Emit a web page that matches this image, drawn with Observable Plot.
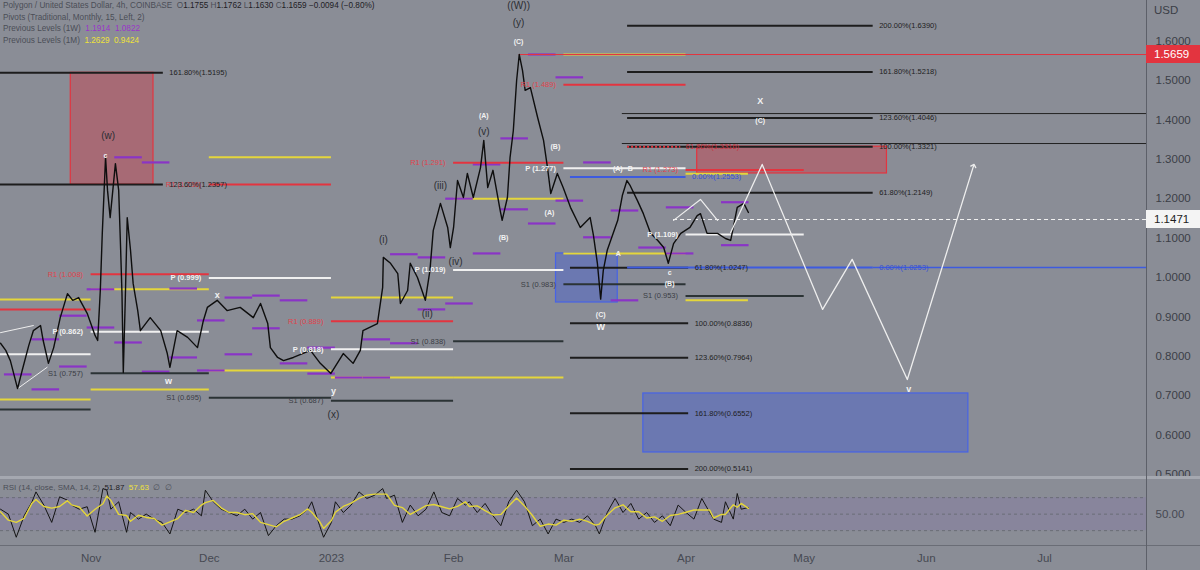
<!DOCTYPE html>
<html>
<head>
<meta charset="utf-8">
<script src="https://cdn.jsdelivr.net/npm/d3@7"></script>
<script src="https://cdn.jsdelivr.net/npm/@observablehq/plot@0.6"></script>
<style>
  html, body { margin:0; padding:0; background:#8a8d96; }
  #wrap { position:relative; width:1200px; height:570px; overflow:hidden; background:#8a8d96; font-family:"Liberation Sans", Arial, sans-serif; }
  #main, #rsi { position:absolute; left:0; }
  #main { top:0; }
  #rsi { top:478px; }
  .lg { position:absolute; left:3px; font-size:8.2px; color:#4b4e57; white-space:nowrap; line-height:11px; }
  .lg b { font-weight:normal; color:#1e2025; }
  .sep { position:absolute; }
  .tag { position:absolute; left:1146px; width:54px; height:18px; line-height:18px; font-size:11.5px; padding-left:8px; box-sizing:border-box; }
</style>
</head>
<body>
<div id="wrap">
  <div id="main"></div>
  <div id="rsi"></div>
</div>
<script>
// ---------------- data ----------------
const xStart = "2022-10-09 00";
const xEnd = "2023-07-26 21";
const priceDomain = [0.4898, 1.703];
const priceTicks = [0.5, 0.6, 0.7, 0.8, 0.9, 1.0, 1.1, 1.2, 1.3, 1.4, 1.5, 1.6];

const priceDates = [
"2022-10-09 00","2022-10-10 08","2022-10-11 12","2022-10-13 08","2022-10-14 12","2022-10-16 04","2022-10-17 08","2022-10-19 04","2022-10-19 20","2022-10-21 04",
"2022-10-22 12","2022-10-24 04","2022-10-26 00","2022-10-27 08","2022-10-28 20","2022-10-31 00","2022-11-02 00","2022-11-02 16","2022-11-03 08","2022-11-03 20",
"2022-11-04 16","2022-11-05 04","2022-11-05 20","2022-11-07 04","2022-11-08 00","2022-11-08 12","2022-11-08 20","2022-11-09 04","2022-11-09 16","2022-11-10 04",
"2022-11-11 00","2022-11-11 16","2022-11-12 20","2022-11-13 12","2022-11-16 00","2022-11-18 16","2022-11-20 08","2022-11-21 00","2022-11-22 20","2022-11-25 12",
"2022-11-28 00","2022-11-29 12","2022-11-30 12","2022-12-03 00","2022-12-05 12","2022-12-08 20","2022-12-12 04","2022-12-14 00","2022-12-15 20","2022-12-16 12",
"2022-12-18 08","2022-12-19 20","2022-12-22 08","2022-12-26 16","2022-12-29 04","2022-12-31 20","2023-01-04 00","2023-01-06 12","2023-01-08 08","2023-01-09 00",
"2023-01-12 16","2023-01-14 00","2023-01-14 04","2023-01-16 00","2023-01-17 20","2023-01-18 12","2023-01-20 08","2023-01-21 00","2023-01-22 20","2023-01-24 20",
"2023-01-26 00","2023-01-26 20","2023-01-28 16","2023-01-30 12","2023-01-31 04","2023-02-01 00","2023-02-02 00","2023-02-03 12","2023-02-04 12","2023-02-06 00",
"2023-02-07 20","2023-02-08 16","2023-02-09 16","2023-02-11 00","2023-02-12 20","2023-02-13 08","2023-02-14 16","2023-02-15 08","2023-02-16 04","2023-02-17 00",
"2023-02-17 16","2023-02-18 12","2023-02-19 04","2023-02-20 12","2023-02-22 08","2023-02-23 20","2023-02-24 20","2023-02-25 16","2023-02-27 08","2023-02-28 20",
"2023-03-02 16","2023-03-05 04","2023-03-07 16","2023-03-08 12","2023-03-09 12","2023-03-10 08","2023-03-11 00","2023-03-12 00","2023-03-13 08","2023-03-14 16",
"2023-03-15 20","2023-03-17 00","2023-03-17 20","2023-03-19 16","2023-03-21 04","2023-03-23 00","2023-03-24 20","2023-03-26 08","2023-03-27 12","2023-03-28 20",
"2023-03-30 16","2023-04-02 00","2023-04-03 20","2023-04-04 16","2023-04-06 08","2023-04-09 00","2023-04-11 00","2023-04-12 08","2023-04-13 00","2023-04-14 00",
"2023-04-15 16","2023-04-16 20"];
const priceValues = [
0.833,0.815,0.789,0.718,0.764,0.827,0.865,0.878,0.840,0.782,
0.822,0.898,0.959,0.942,0.949,0.909,0.853,0.840,0.967,1.112,
1.305,1.221,1.152,1.289,1.221,1.069,0.959,0.759,0.942,1.152,
1.069,0.985,0.916,0.865,0.898,0.865,0.807,0.772,0.865,0.848,
0.822,0.891,0.924,0.942,0.916,0.924,0.898,0.934,0.883,0.822,
0.797,0.789,0.797,0.815,0.782,0.756,0.807,0.782,0.815,0.865,
0.883,0.975,1.051,1.036,1.010,0.934,0.967,1.036,1.000,0.942,
1.018,1.119,1.188,1.127,1.076,1.127,1.246,1.203,1.264,1.203,
1.279,1.348,1.228,1.272,1.170,1.145,1.203,1.305,1.373,1.500,
1.566,1.525,1.475,1.482,1.406,1.348,1.279,1.213,1.264,1.228,
1.178,1.127,1.152,1.107,1.036,0.945,1.018,1.069,1.107,1.145,
1.208,1.246,1.233,1.195,1.162,1.112,1.094,1.076,1.036,1.086,
1.112,1.127,1.157,1.162,1.112,1.112,1.099,1.094,1.127,1.178,
1.188,1.165];

const rsiDates = [
"2022-10-09","2022-10-11","2022-10-13","2022-10-15","2022-10-17","2022-10-18","2022-10-20","2022-10-22","2022-10-24","2022-10-26",
"2022-10-27","2022-10-29","2022-10-31","2022-11-02","2022-11-04","2022-11-05","2022-11-06","2022-11-08","2022-11-10","2022-11-11",
"2022-11-13","2022-11-15","2022-11-17","2022-11-19","2022-11-21","2022-11-23","2022-11-25","2022-11-27","2022-11-29","2022-11-30",
"2022-12-02","2022-12-04","2022-12-06","2022-12-08","2022-12-10","2022-12-12","2022-12-14","2022-12-16","2022-12-18","2022-12-20",
"2022-12-22","2022-12-24","2022-12-26","2022-12-27","2022-12-29","2022-12-30","2023-01-01","2023-01-02","2023-01-04","2023-01-06",
"2023-01-08","2023-01-10","2023-01-12","2023-01-14","2023-01-15","2023-01-17","2023-01-19","2023-01-21","2023-01-23","2023-01-25",
"2023-01-27","2023-01-29","2023-01-31","2023-02-02","2023-02-04","2023-02-05","2023-02-07","2023-02-09","2023-02-11","2023-02-13",
"2023-02-15","2023-02-17","2023-02-19","2023-02-21","2023-02-23","2023-02-25","2023-02-27","2023-03-01","2023-03-03","2023-03-05",
"2023-03-07","2023-03-09","2023-03-10","2023-03-12","2023-03-14","2023-03-16","2023-03-18","2023-03-20","2023-03-22","2023-03-24",
"2023-03-26","2023-03-28","2023-03-30","2023-04-01","2023-04-03","2023-04-05","2023-04-07","2023-04-08","2023-04-10","2023-04-11",
"2023-04-13","2023-04-14","2023-04-15","2023-04-16 20"];
const rsiValues = [
56,50,22,48,65,77,61,40,71,67,
61,56,59,28,81,79,56,65,28,52,
44,50,44,40,26,56,52,56,48,79,
65,56,52,48,56,44,52,24,36,44,
44,48,56,65,36,22,40,65,52,61,
77,69,73,81,69,73,40,61,48,56,
77,52,48,69,61,65,52,63,48,36,
65,79,65,36,44,26,44,40,44,40,
48,36,26,52,69,52,63,44,52,40,
48,36,61,52,44,69,52,44,40,65,
44,75,56,58];
const rsiDomain = [12, 92];
const rsiBand = [30, 70];
const rsiLevels = [30, 50, 70];
const rsiTicks = [50];

// monthly pivots (traditional)
const pivotMonths = ["2022-10-01","2022-11-01","2022-12-01","2023-01-01","2023-02-01","2023-03-01","2023-04-01"];
const pivotR1 = [0.919, 1.008, 1.236, 0.889, 1.291, 1.489, 1.273];
const pivotP  = [0.805, 0.862, 0.999, 0.818, 1.019, 1.277, 1.109];
const pivotS1 = [0.665, 0.757, 0.695, 0.687, 0.838, 0.983, 0.953];
// previous month high / low
const prevMonthHigh = [0.944, 0.970, 1.305, 0.949, 1.200, 1.566, 1.263];
const prevMonthLow  = [0.690, 0.716, 0.764, 0.746, 0.746, 1.061, 0.942];
// previous week high / low
const weekStarts = ["2022-10-10","2022-10-17","2022-10-24","2022-10-31","2022-11-07","2022-11-14","2022-11-21","2022-11-28","2022-12-05","2022-12-12","2022-12-19","2022-12-26","2023-01-02","2023-01-09","2023-01-16","2023-01-23","2023-01-30","2023-02-06","2023-02-13","2023-02-20","2023-02-27","2023-03-06","2023-03-13","2023-03-20","2023-03-27","2023-04-03","2023-04-10"];
const prevWeekHigh = [null,0.843,0.903,0.970,1.305,1.292,0.972,0.891,0.949,0.954,0.942,0.822,null,0.843,1.059,1.051,1.200,1.287,1.353,1.566,1.508,1.292,1.170,null,1.178,null,1.191];
const prevWeekLow  = [0.754,0.716,0.774,0.873,0.835,0.761,0.797,0.764,0.805,0.871,0.782,0.756,0.746,0.746,0.833,0.919,0.934,1.061,1.173,1.137,1.195,1.102,0.942,1.076,1.061,null,1.082];

// fibonacci extensions
const fibLeftLevels = [1.5195, 1.2357];
const fibLeftRatios = ["161.80%", "123.60%"];
const fibLeftSpan = ["2022-10-01 00", "2022-11-19 08"];
const fibUpperLevels = [1.6390, 1.5218, 1.4046, 1.3321, 1.2149];
const fibUpperRatios = ["200.00%", "161.80%", "123.60%", "100.00%", "61.80%"];
const fibUpperSpan = ["2023-03-17 04", "2023-05-18 12"];
const fibLowerLevels = [1.0247, 0.8836, 0.7964, 0.6552, 0.5141];
const fibLowerRatios = ["61.80%", "100.00%", "123.60%", "161.80%", "200.00%"];
const fibLowerSpan = ["2023-03-02 16", "2023-04-01 16"];

const extraLevels = [1.2553, 1.3316, 1.0253];
const extraLabels = ["0.00%(1.2553)", "61.80%(1.3316)", "0.00%(1.0253)"];
const extraStarts = ["2023-03-02 16", "2023-03-17 04", "2023-03-17 04"];
const extraEnds = ["2023-04-01 00", "2023-03-30 16", "2023-05-18 12"];
const extraKinds = ["blue", "red", "blue"];

const rayLevels = [1.5659, 1.416, 1.340, 1.0253];
const rayStarts = ["2023-02-17 16", "2023-03-15 20", "2023-03-15 20", "2023-05-18 12"];
const rayKinds = ["red", "fib", "fib", "blue"];
const lastPrice = 1.1471;
const lastPriceStart = "2023-03-28 20";
const highPrice = 1.5659;

// zones
const boxStarts = ["2022-10-26 20", "2023-04-03 20", "2023-02-27 00", "2023-03-21 04"];
const boxEnds = ["2022-11-16 20", "2023-05-22 00", "2023-03-14 16", "2023-06-11 16"];
const boxTops = [1.5195, 1.332, 1.061, 0.7056];
const boxBottoms = [1.2357, 1.264, 0.9365, 0.5558];
const boxKinds = ["red", "red", "blue", "blue"];

// projected path
const projDates = ["2023-04-12 08", "2023-04-20 08", "2023-05-05 16", "2023-05-13 04", "2023-05-27 04", "2023-06-13 00"];
const projValues = [1.114, 1.287, 0.919, 1.046, 0.741, 1.284];
const triDates = ["2023-03-28 20", "2023-04-04 16", "2023-04-09 00"];
const triValues = [1.145, 1.198, 1.145];
const wedgeDates = [["2022-10-09 00", "2022-10-17 08"], ["2022-10-13 08", "2022-10-20 20"]];
const wedgeValues = [[0.860, 0.878], [0.718, 0.772]];

// wave labels
const waveTexts = ["(w)","c","x","w","y","(x)","(i)","(ii)","(iii)","(iv)","(v)","(A)","(B)","(C)","(y)","((W))","(A)","(B)","(C)","W","A","c","(B)","(A)","B","X","(C)","v"];
const waveDates = ["2022-11-05 08","2022-11-04 16","2022-12-03 00","2022-11-20 16","2023-01-01 12","2023-01-01 12","2023-01-14 04","2023-01-25 08","2023-01-28 16","2023-02-01 12","2023-02-08 16","2023-02-08 16","2023-02-13 16","2023-02-17 12","2023-02-17 12","2023-02-17 12","2023-02-25 08","2023-02-26 20","2023-03-10 08","2023-03-10 08","2023-03-14 20","2023-03-27 20","2023-03-27 20","2023-03-14 16","2023-03-17 20","2023-04-19 20","2023-04-19 20","2023-05-27 12"];
const wavePrices = [1.360,1.310,0.954,0.738,0.711,0.652,1.096,0.909,1.233,1.041,1.371,1.411,1.102,1.599,1.647,1.690,1.165,1.332,0.906,0.873,1.061,1.013,0.985,1.277,1.277,1.447,1.398,0.716];
const waveKinds = ["major","minor","big","big","big","major","major","major","major","major","major","minor","minor","minor","major","major","minor","minor","minor","big","minor","minor","minor","minor","minor","big","minor","big"];

// legend texts
const symbolTitle = "Polygon / United States Dollar, 4h, COINBASE";
const ohlcKeys = ["O", "H", "L", "C"];
const ohlcValues = [1.1755, 1.1762, 1.1630, 1.1659];
const change = -0.0094, changePct = -0.80;
const pivotTitle = "Pivots (Traditional, Monthly, 15, Left, 2)";
const weekLevelsTitle = "Previous Levels (1W)";
const weekLevelsNow = [1.1914, 1.0822];
const monthLevelsTitle = "Previous Levels (1M)";
const monthLevelsNow = [1.2629, 0.9424];
const rsiTitle = "RSI (14, close, SMA, 14, 2)";
const rsiNow = [51.87, 57.63];
const currency = "USD";

// ---------------- styles ----------------
const FONT = "Liberation Sans, Arial, sans-serif";
const pal = {R1: "#e3343f", P: "#f0f0f0", S1: "#2b3335", month: "#e4d63b", week: "#8a34c6",
  fib: "#1d1d1d", blue: "#3d5bdf", red: "#e3343f", axis: "#3b3e46"};

// ---------------- build ----------------
const parse = d3.utcParse("%Y-%m-%d %H");
const T = s => parse(s.length === 10 ? s + " 00" : s);
const f2 = d3.format(".2f"), f3 = d3.format(".3f"), f4 = d3.format(".4f");
const xDomain = [T(xStart), T(xEnd)];

const price = priceDates.map((d, i) => ({date: T(d), value: priceValues[i]}));
const lastDate = price[price.length - 1].date;

const pivots = pivotMonths.flatMap((m, i) => {
  const x1 = T(m), x2 = d3.utcMonth.offset(x1, 1);
  return [["R1", pivotR1[i]], ["P", pivotP[i]], ["S1", pivotS1[i]]]
    .map(([kind, y]) => ({kind, y, x1, x2, label: `${kind} (${f3(y)})`}));
});
// only label the pivots whose start lies inside the visible window
const pivotLabels = pivots.filter(d => d.x1 >= xDomain[0]);
const monthly = pivotMonths.flatMap((m, i) => {
  const x1 = T(m), x2 = d3.min([d3.utcMonth.offset(x1, 1), lastDate]);
  return [prevMonthHigh[i], prevMonthLow[i]].filter(v => v != null).map(y => ({x1, x2, y}));
});
const weekly = weekStarts.flatMap((w, i) => {
  const x1 = T(w), x2 = d3.utcDay.offset(x1, 7);
  return [prevWeekHigh[i], prevWeekLow[i]].filter(v => v != null).map(y => ({x1, x2, y}));
});
const fibSet = (levels, ratios, span) => levels.map((y, i) => ({y, x1: T(span[0]), x2: T(span[1]), label: `${ratios[i]}(${f4(y)})`}));
const fibs = [...fibSet(fibLeftLevels, fibLeftRatios, fibLeftSpan), ...fibSet(fibUpperLevels, fibUpperRatios, fibUpperSpan), ...fibSet(fibLowerLevels, fibLowerRatios, fibLowerSpan)];
const extras = extraLevels.map((y, i) => ({y, x1: T(extraStarts[i]), x2: T(extraEnds[i]), kind: extraKinds[i], label: extraLabels[i]}));
const rays = rayLevels.map((y, i) => ({y, x1: T(rayStarts[i]), x2: xDomain[1], kind: rayKinds[i]}));
const lastRay = [{y: lastPrice, x1: T(lastPriceStart), x2: xDomain[1]}];
const boxes = boxStarts.map((s, i) => ({x1: T(s), x2: T(boxEnds[i]), y1: boxBottoms[i], y2: boxTops[i], kind: boxKinds[i]}));
const proj = projDates.map((d, i) => ({date: T(d), value: projValues[i]}));
const tri = triDates.map((d, i) => ({date: T(d), value: triValues[i]}));
const wedges = wedgeDates.flatMap((pair, j) => pair.map((d, i) => ({date: T(d), value: wedgeValues[j][i], z: j})));
const waves = waveTexts.map((t, i) => ({text: t, date: T(waveDates[i]), value: wavePrices[i], kind: waveKinds[i]}));

const seg = {x1: "x1", x2: "x2", y: "y"};
const main = Plot.plot({
  width: 1200, height: 478,
  marginTop: 0, marginRight: 54, marginBottom: 0, marginLeft: 0,
  style: {background: "transparent", color: pal.axis, fontSize: "11.5px", fontFamily: FONT},
  x: {type: "utc", domain: xDomain, axis: null},
  y: {domain: priceDomain, axis: "right", ticks: priceTicks, tickFormat: f4, tickSize: 0, tickPadding: 9, label: null},
  marks: [
    Plot.rect(boxes.filter(b => b.kind === "red"), {x1: "x1", x2: "x2", y1: "y1", y2: "y2", fill: "#d8323e", fillOpacity: 0.38, stroke: "#e3343f", strokeWidth: 1.2}),
    Plot.rect(boxes.filter(b => b.kind === "blue"), {x1: "x1", x2: "x2", y1: "y1", y2: "y2", fill: "#3a58dc", fillOpacity: 0.38, stroke: "#4763e6", strokeWidth: 1.2}),
    Plot.ruleY(monthly, {...seg, stroke: pal.month, strokeWidth: 2}),
    Plot.ruleY(weekly, {...seg, stroke: pal.week, strokeWidth: 2.2}),
    Plot.ruleY(pivots.filter(d => d.kind === "R1"), {...seg, stroke: pal.R1, strokeWidth: 2}),
    Plot.ruleY(pivots.filter(d => d.kind === "P"), {...seg, stroke: pal.P, strokeWidth: 2}),
    Plot.ruleY(pivots.filter(d => d.kind === "S1"), {...seg, stroke: pal.S1, strokeWidth: 2}),
    Plot.ruleY(fibs, {...seg, stroke: pal.fib, strokeWidth: 2}),
    Plot.ruleY(extras.filter(d => d.kind === "blue"), {...seg, stroke: pal.blue, strokeWidth: 2}),
    Plot.ruleY(extras.filter(d => d.kind === "red"), {...seg, stroke: pal.red, strokeWidth: 2, strokeDasharray: "2,2"}),
    Plot.ruleY(rays.filter(d => d.kind === "red"), {...seg, stroke: pal.red, strokeWidth: 1}),
    Plot.ruleY(rays.filter(d => d.kind === "fib"), {...seg, stroke: "#222", strokeWidth: 1}),
    Plot.ruleY(rays.filter(d => d.kind === "blue"), {...seg, stroke: pal.blue, strokeWidth: 1.3}),
    Plot.ruleY(lastRay, {...seg, stroke: "#f4f4f4", strokeWidth: 1, strokeDasharray: "4,3"}),
    Plot.line(wedges, {x: "date", y: "value", z: "z", stroke: "#eeeeee", strokeWidth: 1}),
    Plot.line(price, {x: "date", y: "value", stroke: "#0e0e0e", strokeWidth: 1.4}),
    Plot.line(tri, {x: "date", y: "value", stroke: "#eeeeee", strokeWidth: 1.2}),
    Plot.line(proj, {x: "date", y: "value", stroke: "#eeeeee", strokeWidth: 1.3, markerEnd: "arrow"}),
    // pivot labels
    Plot.text(pivotLabels.filter(d => d.kind === "R1"), {x: "x1", y: "y", text: "label", dx: -8, textAnchor: "end", fill: "#e0434d", fontSize: 7.5}),
    Plot.text(pivotLabels.filter(d => d.kind === "P"), {x: "x1", y: "y", text: "label", dx: -8, textAnchor: "end", fill: "#f2f2f2", fontSize: 7.5, fontWeight: "bold"}),
    Plot.text(pivotLabels.filter(d => d.kind === "S1"), {x: "x1", y: "y", text: "label", dx: -8, textAnchor: "end", fill: "#3a3d45", fontSize: 7.5}),
    // fib labels
    Plot.text(fibs, {x: "x2", y: "y", text: "label", dx: 6, textAnchor: "start", fill: "#1e1e1e", fontSize: 7.5}),
    Plot.text(extras.filter(d => d.kind === "blue"), {x: "x2", y: "y", text: "label", dx: 6, textAnchor: "start", fill: "#3550d8", fontSize: 7.5}),
    Plot.text(extras.filter(d => d.kind === "red"), {x: "x2", y: "y", text: "label", dx: 5, textAnchor: "start", fill: "#c8303a", fontSize: 7.5}),
    // wave labels
    Plot.text(waves.filter(d => d.kind === "major"), {x: "date", y: "value", text: "text", fill: "#2c2e33", fontSize: 10}),
    Plot.text(waves.filter(d => d.kind === "minor"), {x: "date", y: "value", text: "text", fill: "#f2f2f2", fontSize: 7, fontWeight: "bold"}),
    Plot.text(waves.filter(d => d.kind === "big"), {x: "date", y: "value", text: "text", fill: "#f2f2f2", fontSize: 9, fontWeight: "bold"})
  ]
});
document.getElementById("main").appendChild(main);

// RSI pane
const rsiRows = rsiDates.map((d, i) => ({date: T(d), value: rsiValues[i]}));
const monthTicks = d3.utcMonths(T("2022-11-01"), xDomain[1]);
const monthFmt = d => d.getUTCMonth() === 0 ? String(d.getUTCFullYear()) : d3.utcFormat("%b")(d);
const rsi = Plot.plot({
  width: 1200, height: 92,
  marginTop: 1, marginRight: 54, marginBottom: 25, marginLeft: 0,
  style: {background: "transparent", color: "#464952", fontSize: "11.5px", fontFamily: FONT},
  x: {type: "utc", domain: xDomain, ticks: monthTicks, tickFormat: monthFmt, tickSize: 0, tickPadding: 8, label: null},
  y: {domain: rsiDomain, axis: "right", ticks: rsiTicks, tickFormat: f2, tickSize: 0, tickPadding: 9, label: null},
  marks: [
    Plot.rect([rsiBand], {x1: () => xDomain[0], x2: () => xDomain[1], y1: d => d[0], y2: d => d[1], fill: "#7e57c2", fillOpacity: 0.15}),
    Plot.ruleY(rsiLevels, {stroke: "#6a6d76", strokeDasharray: "3,3", strokeWidth: 1}),
    Plot.line(rsiRows, {x: "date", y: "value", stroke: "#141414", strokeWidth: 1}),
    Plot.line(rsiRows, Plot.windowY({k: 3, anchor: "middle"}, {x: "date", y: "value", stroke: "#e4d63b", strokeWidth: 1.4}))
  ]
});
document.getElementById("rsi").appendChild(rsi);

// ---------------- overlays ----------------
const wrap = document.getElementById("wrap");
const addDiv = (cls, css, html) => { const d = document.createElement("div"); d.className = cls; Object.assign(d.style, css); if (html != null) d.innerHTML = html; wrap.appendChild(d); return d; };
// separators
addDiv("sep", {left: "0px", top: "476px", width: "1200px", height: "3px", background: "#a5a8b0"});
addDiv("sep", {left: "0px", top: "545px", width: "1200px", height: "1px", background: "#6a6d76"});
addDiv("sep", {left: "1146px", top: "0px", width: "1px", height: "570px", background: "#5d6069"});
// legend
const sign = v => v < 0 ? "−" : "+";
addDiv("lg", {top: "0px"}, `${symbolTitle}&nbsp; ${ohlcKeys.map((k, i) => `${k}<b>${f4(ohlcValues[i])}</b>`).join(" ")} <b>${sign(change)}${f4(Math.abs(change))} (${sign(changePct)}${f2(Math.abs(changePct))}%)</b>`);
addDiv("lg", {top: "11.5px"}, pivotTitle);
addDiv("lg", {top: "23px"}, `${weekLevelsTitle}&nbsp; <span style="color:#9b35c9">${f4(weekLevelsNow[0])}&nbsp; ${f4(weekLevelsNow[1])}</span>`);
addDiv("lg", {top: "34.5px"}, `${monthLevelsTitle}&nbsp; <span style="color:#efe23a">${f4(monthLevelsNow[0])}&nbsp; ${f4(monthLevelsNow[1])}</span>`);
addDiv("lg", {top: "482px", fontSize: "8px"}, `${rsiTitle}&nbsp; <b>${f2(rsiNow[0])}</b>&nbsp; <span style="color:#efe23a">${f2(rsiNow[1])}</span>&nbsp; ∅&nbsp; ∅`);
// currency label
addDiv("tag", {top: "1px", background: "transparent", color: pal.axis}, currency);
// price tags using the y scale
const yS = main.scale("y");
addDiv("tag", {top: (yS.apply(highPrice) - 9) + "px", background: "#e3343f", color: "#ffffff"}, f4(highPrice));
addDiv("tag", {top: (yS.apply(lastPrice) - 9) + "px", background: "#f4f4f4", color: "#1e1e1e"}, f4(lastPrice));
</script>
</body>
</html>
